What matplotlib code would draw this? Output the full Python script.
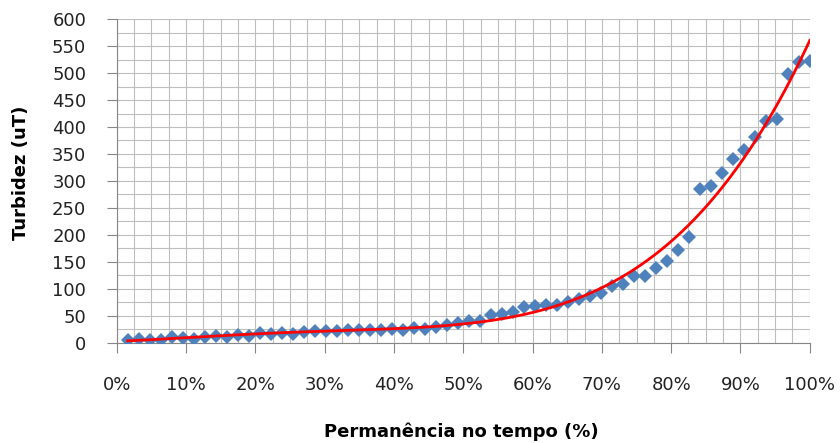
import matplotlib.pyplot as plt
import numpy as np

# turbidity values (63 points)
turbidez = [5, 8, 6, 6, 11, 9, 8, 11, 12.5, 11,
            14, 12.5, 18, 17, 18, 17, 21, 22, 22.5, 22,
            23, 24, 23, 24, 25, 24, 27, 26.5, 29, 33,
            36, 41, 41, 52, 54, 58, 66, 69, 70, 71,
            76, 81, 86, 93, 105, 109, 124, 124, 138, 152,
            173, 197, 285, 291, 315, 340, 357, 382, 412, 415,
            499, 521, 523]
n = len(turbidez)
permanencia = [(i + 1) / n for i in range(n)]
tick_pct = [0, 10, 20, 30, 40, 50, 60, 70, 80, 90, 100]

x = np.array(permanencia)
y = np.array(turbidez)

# polynomial trendline (4th order), as the spreadsheet would fit it
coef = np.polyfit(x, y, 4)
xs = np.linspace(x[0], x[-1], 300)

fig, ax = plt.subplots(figsize=(8.4, 4.43), dpi=100)
fig.subplots_adjust(left=0.139, right=0.964, top=0.957, bottom=0.226)

ax.plot(x, y, 'D', color='#4F81BD', markersize=7, markeredgewidth=0, zorder=3)
ax.plot(xs, np.polyval(coef, xs), color='#FF0000', lw=2, zorder=4)

ax.set_xlim(0, 1)
ax.set_ylim(0, 600)
ax.set_xticks([p / 100 for p in tick_pct])
ax.set_xticklabels([f'{p}%' for p in tick_pct])
ax.set_yticks(np.arange(0, 601, 50))
ax.set_xticks(np.arange(0, 1.001, 0.025), minor=True)
ax.set_yticks(np.arange(0, 601, 25), minor=True)
ax.grid(True, which='both', color='#BEBEBE', lw=0.8)
ax.set_axisbelow(True)
ax.tick_params(which='minor', length=0)
ax.tick_params(which='major', length=7, color='#868686', labelsize=13,
               labelcolor='#222222')
ax.tick_params(axis='x', pad=17)
ax.tick_params(axis='y', pad=15)
for side in ['top', 'right']:
    ax.spines[side].set_visible(False)
for side in ['left', 'bottom']:
    ax.spines[side].set_color('#868686')

ax.set_xlabel('Permanência no tempo (%)', fontsize=13, fontweight='bold')
ax.set_ylabel('Turbidez (uT)', fontsize=13, fontweight='bold')
ax.xaxis.set_label_coords(0.497, -0.245)
ax.yaxis.set_label_coords(-0.1255, 0.525)

fig.savefig('out.png')
